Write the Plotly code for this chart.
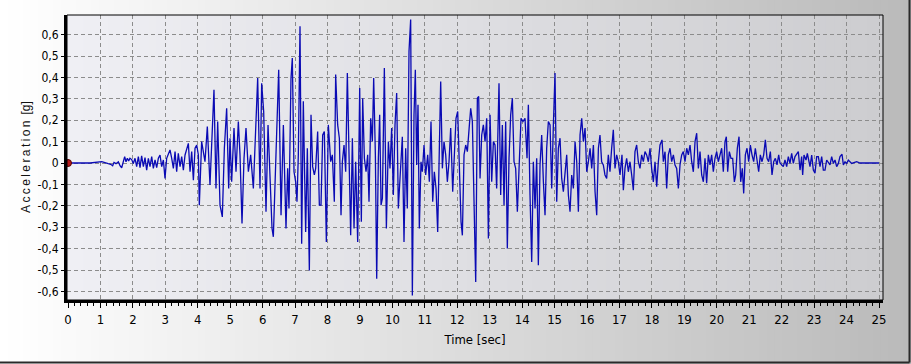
import plotly.graph_objects as go

# ---------------- data ----------------
time_s = [
    0.0, 0.68, 1.04, 1.14, 1.24, 1.315, 1.377, 1.418, 1.48, 1.552, 1.603, 1.655, 1.706, 1.747, 1.788, 1.83,
    1.87, 1.91, 1.963, 2.014, 2.066, 2.117, 2.169, 2.22, 2.27, 2.323, 2.374, 2.425, 2.477, 2.528, 2.58,
    2.631, 2.683, 2.734, 2.785, 2.837, 2.888, 2.94, 2.99, 3.042, 3.104, 3.145, 3.197, 3.248, 3.30, 3.35,
    3.40, 3.454, 3.505, 3.556, 3.608, 3.66, 3.71, 3.762, 3.813, 3.865, 3.916, 3.968, 4.019,
    4.048, 4.12, 4.223, 4.295, 4.377, 4.449, 4.50, 4.562, 4.614, 4.686, 4.757, 4.82, 4.891, 4.953, 4.994,
    5.045, 5.117, 5.179, 5.251, 5.302, 5.364, 5.426, 5.487, 5.56, 5.631, 5.714, 5.796, 5.847, 5.919, 5.97,
    6.032, 6.104, 6.166, 6.228, 6.289, 6.33, 6.382, 6.433, 6.495, 6.567, 6.639,
    6.72, 6.771, 6.812, 6.874, 6.915, 6.967, 7.018, 7.059, 7.10, 7.152, 7.203, 7.254, 7.326, 7.378, 7.44,
    7.491, 7.542, 7.594, 7.635, 7.696, 7.748, 7.799, 7.851, 7.902, 7.964, 8.025, 8.097, 8.149, 8.21, 8.251,
    8.313, 8.365, 8.416, 8.457, 8.509, 8.56, 8.611, 8.663, 8.714, 8.766, 8.817, 8.868, 8.93, 8.992, 9.043,
    9.084, 9.136, 9.187, 9.238, 9.279, 9.331, 9.382, 9.423, 9.475, 9.516, 9.567, 9.608, 9.65, 9.691, 9.752,
    9.814, 9.876,
    9.926, 9.977, 10.029, 10.08, 10.132, 10.183, 10.234, 10.306, 10.358, 10.409, 10.46, 10.512, 10.563,
    10.615, 10.666, 10.707, 10.748, 10.789, 10.83, 10.882, 10.923, 10.975, 11.026, 11.088, 11.139, 11.19,
    11.242, 11.293, 11.345, 11.396, 11.447, 11.489, 11.54, 11.591, 11.643, 11.694, 11.745, 11.797, 11.859,
    11.91, 11.961, 12.013, 12.064, 12.116, 12.157, 12.208, 12.26, 12.311, 12.373, 12.414, 12.465, 12.517,
    12.568, 12.619, 12.66, 12.702, 12.753, 12.804, 12.856, 12.907, 12.959, 13.01, 13.061, 13.113,
    13.163, 13.214, 13.286, 13.338, 13.389, 13.441, 13.492, 13.543, 13.595, 13.646, 13.698, 13.749, 13.80,
    13.852, 13.903, 13.965, 14.026, 14.088, 14.15, 14.191, 14.242, 14.294, 14.345, 14.397, 14.448, 14.499,
    14.551, 14.602, 14.654, 14.705, 14.756, 14.808, 14.859, 14.911, 14.962, 15.013, 15.065, 15.116, 15.167,
    15.219, 15.27, 15.322, 15.373, 15.425, 15.476, 15.527, 15.579, 15.63, 15.682, 15.733, 15.784, 15.836,
    15.887, 15.939, 15.99, 16.041, 16.093, 16.144, 16.196, 16.247, 16.298, 16.35,
    16.399, 16.45, 16.502, 16.553, 16.605, 16.656, 16.707, 16.759, 16.81, 16.862, 16.913, 16.964, 17.016,
    17.077, 17.119, 17.17, 17.221, 17.273, 17.324, 17.376, 17.427, 17.478, 17.53, 17.581, 17.633, 17.684,
    17.735, 17.787, 17.838, 17.89, 17.941, 17.992, 18.044, 18.095, 18.147, 18.198, 18.249, 18.311, 18.352,
    18.404, 18.455, 18.506, 18.558, 18.609, 18.661, 18.712, 18.763, 18.815, 18.866, 18.918, 18.969, 19.02,
    19.072, 19.123, 19.175, 19.226, 19.277, 19.329, 19.38, 19.432, 19.483, 19.534, 19.586,
    19.636, 19.687, 19.739, 19.79, 19.842, 19.893, 19.944, 19.996, 20.047, 20.099, 20.15, 20.201, 20.253,
    20.294, 20.335, 20.386, 20.438, 20.489, 20.541, 20.582, 20.633, 20.685, 20.736, 20.787, 20.829, 20.88,
    20.931, 20.983, 21.034, 21.085, 21.137, 21.188, 21.24, 21.291, 21.342, 21.394, 21.445, 21.497, 21.548,
    21.599, 21.651, 21.702, 21.754, 21.805, 21.856, 21.908,
    21.948, 22.05, 22.102, 22.154, 22.205, 22.256, 22.308, 22.359, 22.41, 22.462, 22.513, 22.565, 22.616,
    22.647, 22.688, 22.75, 22.791, 22.832, 22.873, 22.925, 22.976, 23.027, 23.079, 23.13, 23.182, 23.233,
    23.284, 23.336, 23.387, 23.49, 23.541, 23.593, 23.644, 23.695, 23.747, 23.798, 23.86, 23.901, 23.952,
    24.004, 24.055, 24.158, 24.312, 24.415, 25.0,
]

accel_g = [
    0.0, 0.0, 0.006, 0.003, -0.003, -0.006, -0.0125, 0.003, -0.003, 0.006, -0.0125, -0.022, 0.014, 0.030, 0.006, 0.022,
    0.009, 0.022, 0.016, -0.002, 0.022, -0.017, 0.030, -0.022, 0.033, -0.017, 0.025, -0.033, 0.022, -0.017, 0.030,
    -0.025, 0.014, -0.022, 0.022, 0.0375, -0.017, 0.014, -0.072, 0.022, 0.045, 0.061, 0.022, -0.025, 0.053, -0.041,
    0.045, -0.017, 0.030, -0.033, 0.0375, 0.069, 0.092, -0.041, 0.053, -0.080, 0.069, 0.084, 0.0375,
    -0.197, 0.100, 0.006, 0.170, -0.103, 0.163, 0.342, -0.119, 0.194, -0.197, -0.252, 0.069, 0.256, -0.119, 0.116,
    -0.088, 0.163, -0.041, 0.194, 0.038, -0.283, 0.022, 0.163, -0.041, 0.038, -0.119, 0.209, 0.397, -0.119, 0.373,
    0.241, -0.228, 0.178, -0.056, -0.306, -0.345, -0.088, 0.163, 0.436, -0.244, 0.178,
    -0.306, -0.025, -0.213, 0.397, 0.491, -0.041, -0.088, -0.181, 0.038, 0.639, -0.377, 0.288, -0.322, 0.069, -0.502,
    0.225, -0.017, -0.056, -0.025, 0.147, -0.197, -0.197, 0.131, 0.147, -0.369, 0.178, 0.006, 0.038, -0.181, 0.413,
    0.178, 0.116, -0.244, 0.006, 0.084, -0.041, 0.420, -0.041, -0.338, 0.116, -0.306, 0.006, -0.369, 0.350, -0.275,
    0.303, 0.022, -0.041, 0.038, -0.181, 0.209, 0.100, 0.397, 0.038, -0.541, 0.022, 0.225, -0.197, -0.166, 0.444,
    -0.306, 0.100,
    -0.025, 0.163, -0.150, 0.178, 0.327, -0.213, -0.072, 0.123, -0.369, 0.069, -0.213, 0.522, 0.670,
    -0.619, 0.225, 0.436, -0.009, 0.272, -0.306, 0.006, -0.041, 0.084, -0.056, 0.038, -0.088, 0.194,
    -0.181, -0.041, -0.119, -0.322, 0.069, 0.381, -0.025, 0.100, 0.038, -0.088, 0.006, 0.163, -0.134,
    0.038, 0.209, 0.241, -0.056, -0.275, -0.338, 0.038, 0.084, 0.053, 0.178, 0.256, 0.194, -0.150,
    -0.556, 0.303, 0.311, -0.072, 0.131, 0.178, 0.100, 0.209, -0.353, 0.225, -0.088, 0.100,
    0.084, -0.119, 0.373, -0.150, 0.178, -0.197, 0.194, -0.400, 0.022, 0.225, 0.303, 0.006, -0.025,
    -0.228, -0.056, 0.209, 0.194, 0.209, 0.022, 0.272, -0.150, -0.463, 0.006, -0.213, 0.022, -0.478,
    -0.009, 0.131, -0.088, -0.244, 0.069, 0.194, 0.178, -0.119, 0.178, 0.420, -0.181, 0.069, 0.116,
    -0.072, -0.134, -0.056, 0.038, -0.150, -0.228, -0.056, -0.119, 0.100, 0.006, -0.228, 0.131, 0.209,
    0.100, 0.163, -0.041, 0.006, 0.069, -0.025, 0.084, -0.134, -0.244, 0.069,
    0.131, 0.006, -0.009, -0.056, -0.072, 0.038, -0.041, 0.069, 0.155, -0.025, 0.038, 0.006, -0.056,
    0.038, -0.127, -0.025, 0.022, -0.041, 0.006, -0.056, -0.127, 0.053, 0.084, 0.006, -0.025, 0.038,
    0.006, 0.053, 0.038, 0.006, 0.069, -0.025, -0.088, 0.006, -0.111, 0.006, 0.084, 0.108, 0.006,
    0.053, -0.119, 0.038, 0.069, 0.006, 0.038, -0.009, -0.025, -0.119, -0.009, 0.038, 0.053, 0.006,
    0.069, 0.038, 0.084, 0.006, -0.041, 0.100, 0.139, -0.025, 0.053, -0.056, -0.088,
    0.022, -0.095, 0.038, -0.009, 0.038, -0.041, 0.022, 0.053, 0.006, 0.038, 0.069, -0.041, 0.100,
    0.123, -0.041, 0.053, 0.022, 0.022, -0.088, -0.056, 0.069, 0.123, -0.088, -0.025, -0.142, 0.038,
    0.069, 0.006, 0.084, 0.038, 0.006, 0.069, 0.022, -0.041, 0.038, 0.006, 0.038, 0.108, 0.022,
    0.006, 0.053, -0.056, 0.006, 0.022, -0.009, 0.038,
    0.0, -0.017, 0.014, -0.017, 0.030, -0.002, 0.045, -0.002, 0.030, 0.045, 0.053, -0.033, 0.030,
    -0.056, 0.037, 0.014, 0.045, 0.014, -0.017, 0.037, -0.033, -0.048, 0.030, 0.030, -0.017, 0.030,
    -0.033, -0.033, 0.014, -0.009, 0.030, -0.002, 0.014, -0.017, -0.002, 0.030, 0.041, -0.009, 0.006,
    -0.002, 0.014, -0.002, 0.006, 0.0, 0.0,
]

start_t = [0.0]
start_a = [0.0]

x_tick_vals = list(range(0, 26))
x_tick_text = [str(v) for v in x_tick_vals]
y_tick_vals = [-0.6, -0.5, -0.4, -0.3, -0.2, -0.1, 0.0, 0.1, 0.2, 0.3, 0.4, 0.5, 0.6]
y_tick_text = ["-0,6", "-0,5", "-0,4", "-0,3", "-0,2", "-0,1", "0", "0,1", "0,2", "0,3", "0,4", "0,5", "0,6"]

x_title = "Time [sec]"
y_title = "A\u2009c\u2009c\u2009e\u2009l\u2009e\u2009r\u2009a\u2009t\u2009i\u2009o\u2009n\u2002[g]"

# ---------------- layout geometry / styling ----------------
W, H = 911, 364
ML, MR, MT, MB = 67, 28, 15, 64
PW, PH = W - ML - MR, H - MT - MB

NARROW = "Liberation Sans Narrow, Arial Narrow, DejaVu Sans Condensed, sans-serif"
REG = "Liberation Sans, Arial, sans-serif"


def hex_to_rgb(h):
    h = h.lstrip("#")
    return tuple(int(h[i:i + 2], 16) for i in (0, 2, 4))


def lerp(c0, c1, f):
    a, b = hex_to_rgb(c0), hex_to_rgb(c1)
    return "rgb(%d,%d,%d)" % tuple(round(a[i] + (b[i] - a[i]) * f) for i in range(3))


shapes = []
# outer (figure) horizontal gradient
ox0, ox1 = -ML / PW, (W - ML) / PW
oy0, oy1 = -MB / PH, (H - MB) / PH
N = 120
for i in range(N):
    xa = ox0 + (ox1 - ox0) * i / N
    xb = ox0 + (ox1 - ox0) * (i + 1) / N + 0.002
    shapes.append(dict(type="rect", xref="paper", yref="paper", x0=xa, x1=xb, y0=oy0, y1=oy1,
                       fillcolor=lerp("#ffffff", "#bababa", i / (N - 1)), line=dict(width=0), layer="below"))
# plot-area gradient
N2 = 100
for i in range(N2):
    xa = i / N2
    xb = min(1.0, (i + 1) / N2 + 0.002)
    shapes.append(dict(type="rect", xref="paper", yref="paper", x0=xa, x1=xb, y0=0, y1=1,
                       fillcolor=lerp("#efeff4", "#cdcdd0", i / (N2 - 1)), line=dict(width=0), layer="below"))
# thin frame on top/right
shapes.append(dict(type="rect", xref="paper", yref="paper", x0=0, x1=1, y0=0, y1=1,
                   line=dict(color="black", width=1), fillcolor="rgba(0,0,0,0)", layer="above"))
# outer sunken border (right and bottom)
bx = (909.5 - ML) / PW
by = -(362.5 - (H - MB)) / PH
shapes.append(dict(type="line", xref="paper", yref="paper", x0=bx, x1=bx, y0=by, y1=oy1,
                   line=dict(color="#2a2a2a", width=2)))
shapes.append(dict(type="line", xref="paper", yref="paper", x0=ox0, x1=bx, y0=by, y1=by,
                   line=dict(color="#2a2a2a", width=2)))

fig = go.Figure()
fig.add_trace(go.Scatter(x=time_s, y=accel_g, mode="lines",
                         line=dict(color="#0a0ab4", width=1.3), hoverinfo="skip", showlegend=False))
fig.add_trace(go.Scatter(x=start_t, y=start_a, mode="markers", cliponaxis=False,
                         marker=dict(size=7, color="#b81c1c", line=dict(color="#5a0000", width=1)),
                         showlegend=False))

px_per_s = 32.44
px_per_g = 214.0
fig.update_layout(
    width=W, height=H,
    margin=dict(l=ML, r=MR, t=MT, b=MB, pad=0),
    paper_bgcolor="#d8d8d8",
    plot_bgcolor="rgba(0,0,0,0)",
    shapes=shapes,
    showlegend=False,
    annotations=[dict(text=y_title, textangle=-90, xref="paper", yref="paper",
                      x=(26 - ML) / PW, y=(300 - 157) / PH, xanchor="center", yanchor="middle",
                      showarrow=False, font=dict(family=REG, size=12, color="#111111"))],
    xaxis=dict(
        range=[-1 / px_per_s, (PW - 1) / px_per_s],
        tickvals=x_tick_vals, ticktext=x_tick_text,
        showgrid=True, gridcolor="#8c8c8c", griddash="4px,3px", gridwidth=1,
        zeroline=False,
        showline=True, linecolor="black", linewidth=3,
        ticks="outside", ticklen=5, tickwidth=1, tickcolor="black",
        minor=dict(dtick=0.2, tick0=0, ticks="outside", ticklen=3, tickcolor="black", showgrid=False),
        tickfont=dict(family=NARROW, size=13, color="black"),
        title=dict(text=x_title, font=dict(family=NARROW, size=13, color="black"), standoff=10),
        fixedrange=True,
    ),
    yaxis=dict(
        range=[-(PH - 148) / px_per_g, 148 / px_per_g],
        tickvals=y_tick_vals, ticktext=y_tick_text,
        showgrid=True, gridcolor="#8c8c8c", griddash="4px,3px", gridwidth=1,
        zeroline=False,
        showline=True, linecolor="black", linewidth=3,
        ticks="outside", ticklen=3, tickwidth=1, tickcolor="black",
        tickfont=dict(family=NARROW, size=12, color="black"),
        fixedrange=True,
    ),
)

fig.write_html("out.html")
